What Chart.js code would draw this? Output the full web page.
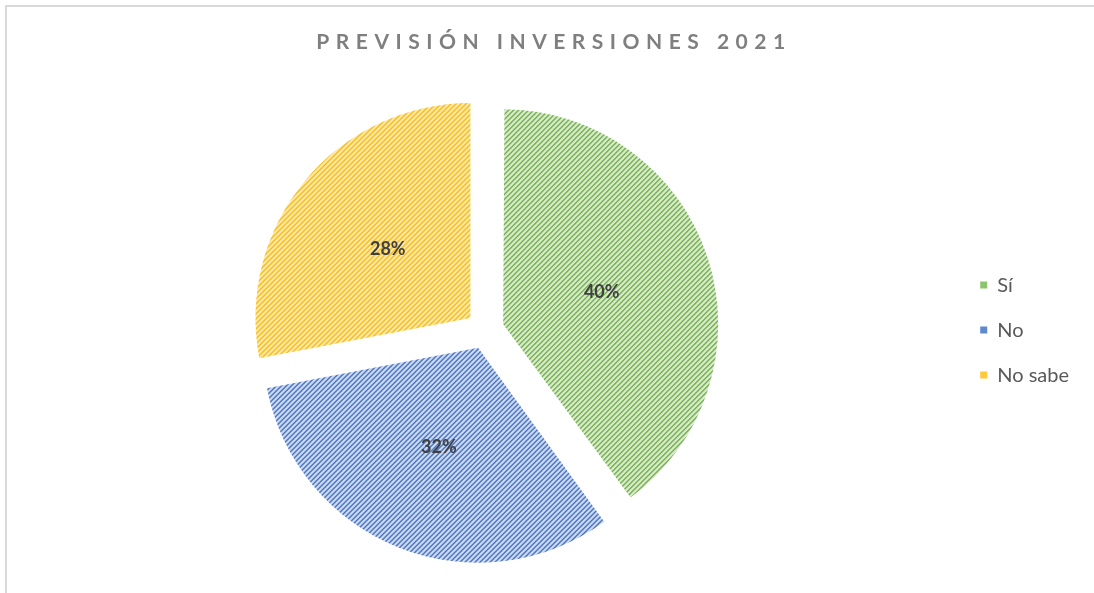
<!DOCTYPE html>
<html><head><meta charset="utf-8">
<script src="https://cdn.jsdelivr.net/npm/chart.js@4"></script>
<style>
html,body{margin:0;padding:0;background:#fff;}
#wrap{position:relative;width:1094px;height:593px;overflow:hidden;}
#frame{position:absolute;left:5px;top:5px;width:1200px;height:700px;border-left:2px solid #d9d9d9;border-top:2px solid #d9d9d9;pointer-events:none;}
</style></head><body>
<div id="wrap"><canvas id="c" width="1094" height="593"></canvas><div id="frame"></div></div>
<script>
// ---- data ----
const categories = ['Sí', 'No', 'No sabe'];
const values = [40, 32, 28];
const valueLabels = ['40%', '32%', '28%'];
const chartTitle = 'PREVISIÓN INVERSIONES 2021';

// ---- styles ----
const stripeColors = ['#76b04f', '#4a74c2', '#f7bd1a'];
const groundColors = ['#d9ecce', '#cddaf1', '#ffe9a8'];
const legendColors = ['#8cc46c', '#6088cf', '#ffc83a'];

function stripes(fg, bg) {
  const n = 5, c = document.createElement('canvas');
  c.width = n; c.height = n;
  const x = c.getContext('2d');
  x.fillStyle = bg; x.fillRect(0, 0, n, n);
  x.fillStyle = fg;
  for (let i = 0; i < n; i++) for (let j = 0; j < n; j++) {
    if (((i + j) % n) < 2) x.fillRect(i, j, 1, 1);
  }
  return x.createPattern(c, 'repeat');
}
const fills = stripeColors.map((c, i) => stripes(c, groundColors[i]));

Chart.defaults.font.family = 'Lato';

// Chart.js enlarges narrow exploded slices by (offset/4)*(1-sin(circumference));
// undo that so every slice keeps the same radius.
const evenRadius = {
  id: 'evenRadius',
  afterDatasetUpdate(chart, args) {
    args.meta.data.forEach(arc => {
      const off = (arc.options.offset || 0) / 4;
      const circ = arc.endAngle - arc.startAngle;
      const fix = 1 - Math.sin(Math.min(Math.PI, circ));
      arc.outerRadius -= off * fix;
    });
  }
};

const sliceLabels = {
  id: 'sliceLabels',
  afterDatasetsDraw(chart) {
    const ctx = chart.ctx;
    const meta = chart.getDatasetMeta(0);
    ctx.save();
    ctx.font = 'bold 18px Lato';
    ctx.fillStyle = '#404040';
    ctx.textAlign = 'center';
    ctx.textBaseline = 'middle';
    meta.data.forEach((arc, i) => {
      const p = arc.getProps(['x', 'y', 'startAngle', 'endAngle', 'outerRadius'], true);
      const off = (arc.options.offset || 0) / 4;
      const a = (p.startAngle + p.endAngle) / 2;
      const d = off + p.outerRadius / 2;
      ctx.fillText(valueLabels[i], p.x + Math.cos(a) * d, p.y + Math.sin(a) * d);
    });
    ctx.restore();
  }
};

const titleSpacing = {
  id: 'titleSpacing',
  afterLayout(chart) {
    const t = chart.titleBlock;
    if (t && !t._spaced) {
      const orig = t.draw.bind(t);
      t.draw = function (area) {
        const ctx = chart.ctx;
        ctx.save();
        ctx.letterSpacing = '6.5px';
        ctx.translate(7, 0);
        orig(area);
        ctx.restore();
        ctx.letterSpacing = '0px';
      };
      t._spaced = true;
    }
  }
};

new Chart(document.getElementById('c'), {
  type: 'pie',
  data: {
    labels: categories,
    datasets: [{
      data: values,
      backgroundColor: fills,
      borderWidth: 0,
      offset: 76
    }]
  },
  options: {
    responsive: false,
    animation: false,
    events: [],
    radius: 215,
    layout: { padding: { left: 15, right: 15, top: 0, bottom: 0 } },
    plugins: {
      tooltip: { enabled: false },
      title: {
        display: true,
        text: chartTitle,
        color: '#7f7f7f',
        font: { family: 'Lato', size: 21, weight: 'bold' },
        padding: { top: 30, bottom: 12 }
      },
      legend: {
        position: 'right',
        fullSize: false,
        labels: {
          boxWidth: 7,
          boxHeight: 7,
          padding: 25,
          color: '#595959',
          font: { family: 'Lato', size: 20 },
          generateLabels(chart) {
            const items = Chart.overrides.pie.plugins.legend.labels.generateLabels(chart);
            items.forEach((it, i) => { it.fillStyle = legendColors[i]; it.lineWidth = 0; });
            return items;
          }
        }
      }
    }
  },
  plugins: [evenRadius, sliceLabels, titleSpacing]
});
</script>
</body></html>
